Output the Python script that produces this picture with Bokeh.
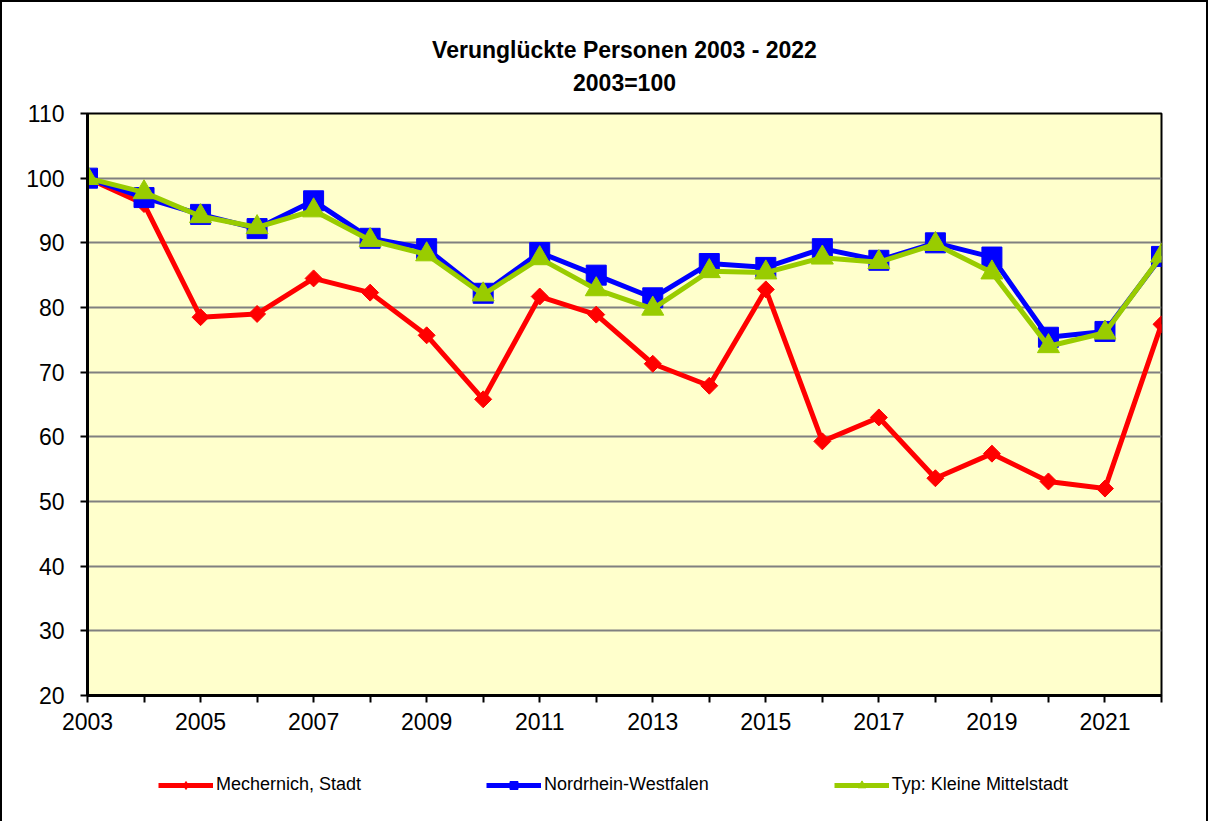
import math
from bokeh.plotting import figure
from bokeh.layouts import column
from bokeh.models import FixedTicker, Legend, LegendItem, Title, Range1d
from bokeh.embed import file_html
from bokeh.resources import INLINE

years = list(range(2003, 2023))
mechernich = [100, 96, 78.5, 79, 84.5, 82.3, 75.7, 65.8, 81.7, 78.9, 71.3, 67.9, 82.8, 59.3, 63, 53.6, 57.4, 53.1, 52, 77.4]
nrw = [100, 97, 94.4, 92.2, 96.5, 90.7, 89.1, 82.2, 88.5, 85, 81.5, 86.8, 86.2, 89.1, 87.3, 90, 87.8, 75.4, 76.3, 87.9]
typ = [100, 97.8, 94.1, 92.4, 95, 90.4, 88.2, 82, 87.6, 82.8, 79.8, 85.6, 85.4, 87.7, 87, 89.8, 85.4, 74, 76.1, 88]
y_ticks = [20, 30, 40, 50, 60, 70, 80, 90, 100, 110]
title_lines = ["Verunglückte Personen 2003 - 2022", "2003=100"]
series_names = ["Mechernich, Stadt", "Nordrhein-Westfalen", "Typ: Kleine Mittelstadt"]
colors = ["#FF0000", "#0000FF", "#99CC00"]

FONT = "Liberation Sans"

p = figure(frame_width=1074, frame_height=582, output_backend="svg", toolbar_location=None,
           x_range=(2003, 2022), y_range=(20, 110),
           min_border_left=85, min_border_right=45, min_border_top=111, min_border_bottom=50,
           background_fill_color="#FFFFCC", border_fill_color="white")

p.title = None
p.add_layout(Title(text="\u00a0", text_font=FONT, text_font_size="10px", standoff=0), "above")
p.add_layout(Title(text=title_lines[1], align="center", text_font=FONT, text_font_size="23px",
                   text_font_style="bold", text_color="black", text_line_height=0.9,
                   standoff=10), "above")
p.add_layout(Title(text=title_lines[0], align="center", text_font=FONT, text_font_size="23px",
                   text_font_style="bold", text_color="black", text_line_height=0.9,
                   standoff=0), "above")

p.outline_line_color = "black"
p.outline_line_width = 2

p.xgrid.visible = False
p.ygrid.ticker = FixedTicker(ticks=y_ticks)
p.ygrid.grid_line_color = "#808080"
p.ygrid.grid_line_width = 2

p.yaxis.ticker = FixedTicker(ticks=y_ticks)
p.xaxis.ticker = FixedTicker(ticks=years)
p.xaxis.major_label_overrides = {y: (str(y) if (y - 2003) % 2 == 0 else "") for y in years}
for ax in (p.xaxis[0], p.yaxis[0]):
    ax.axis_line_color = "black"
    ax.axis_line_width = 3
    ax.major_tick_line_color = "black"
    ax.major_tick_line_width = 2
    ax.major_tick_out = 7
    ax.major_tick_in = 0
    ax.minor_tick_line_color = None
    ax.major_label_text_font = FONT
    ax.major_label_text_font_size = "23px"
    ax.major_label_text_color = "black"
p.yaxis.major_label_standoff = 16
p.xaxis.major_label_standoff = 10

p.line(years, mechernich, line_color=colors[0], line_width=5)
p.scatter(years, mechernich, marker="square", angle=math.pi / 4, size=12,
          fill_color=colors[0], line_color=colors[0])
p.line(years, nrw, line_color=colors[1], line_width=5)
p.scatter(years, nrw, marker="square", size=20, fill_color=colors[1], line_color=colors[1])
p.line(years, typ, line_color=colors[2], line_width=5)
p.scatter(years, typ, marker="triangle", size=22, fill_color=colors[2], line_color=colors[2])

# legend strip below the chart
lf = figure(width=1204, height=76, output_backend="svg", toolbar_location=None,
            x_range=Range1d(0, 1), y_range=Range1d(0, 1),
            min_border=0, border_fill_color="white", background_fill_color="white")
lf.axis.visible = False
lf.grid.visible = False
lf.outline_line_color = None

hx, hy = [-5], [-5]  # outside the visible range: only the legend shows them
items = []
markers = [("diamond", 0, 10), ("square", 0, 8), ("triangle", 0, 9)]
for name, col, (mk, ang, sz) in zip(series_names, colors, markers):
    rl = lf.line(hx, hy, line_color=col, line_width=5)
    rm = lf.scatter(hx, hy, marker=mk, angle=ang, size=sz, fill_color=col, line_color=col)
    items.append(LegendItem(label=name, renderers=[rl, rm]))

legend = Legend(items=items, orientation="horizontal", location=(71, 26),
                label_text_font=FONT, label_text_font_size="18px", label_text_color="black",
                glyph_width=55, glyph_height=20, spacing=125, label_standoff=3,
                border_line_color=None, background_fill_alpha=0, margin=0, padding=0)
lf.add_layout(legend, "center")

layout = column(p, lf, spacing=0)
layout.styles = {"border": "2px solid black"}

open("out.html", "w").write(file_html(layout, INLINE))
